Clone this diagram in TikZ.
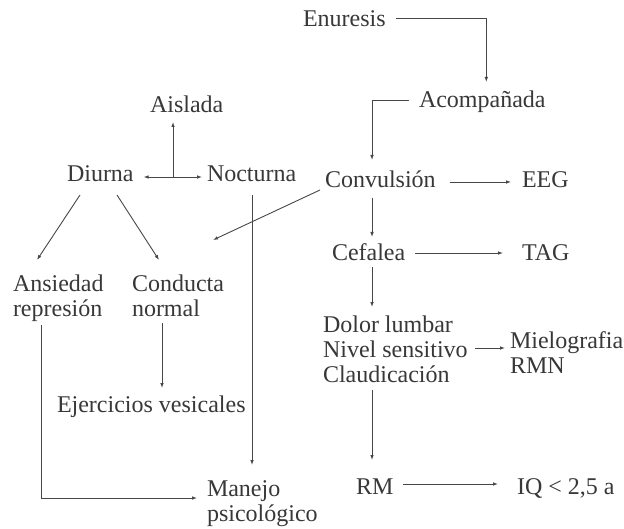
\documentclass[tikz,border=0pt]{standalone}
\usepackage{fontspec}
\setmainfont{Liberation Serif}
\usetikzlibrary{arrows.meta,calc}

\begin{document}
\begin{tikzpicture}[x=1bp,y=-1bp,
    lbl/.style={anchor=base west,inner sep=0pt,outer sep=0pt,text=black!78,
      font=\fontsize{24bp}{25bp}\selectfont},
    % multi-line labels: the base anchor sits on the last line
    lbllines/.style={lbl,align=left},
    arr/.style={draw=black!72,line width=0.9bp,-{Latex[length=5bp,width=3.6bp]}},
    dbl/.style={draw=black!72,line width=0.9bp,{Latex[length=5bp,width=3.6bp]}-{Latex[length=5bp,width=3.6bp]}}]
  % page frame
  \fill[white] (0,0) rectangle (624,529);
  \useasboundingbox (0,0) rectangle (624,529);

  % right branch
  \node[lbl] (enur)  at (303,27)  {Enuresis};
  \node[lbl] (acomp) at (419,108) {Acompañada};
  \node[lbl] (conv)  at (325,188) {Convulsión};
  \node[lbl] (eeg)   at (522,188) {EEG};
  \node[lbl] (cef)   at (332,260) {Cefalea};
  \node[lbl] (tag)   at (522,260) {TAG};
  \node[lbllines] (dolor) at (323,382) {Dolor lumbar\\Nivel sensitivo\\Claudicación};
  \node[lbllines] (miel)  at (510,373) {Mielografia\\RMN};
  \node[lbl] (rm)    at (356,494) {RM};
  \node[lbl] (iq)    at (517,494) {IQ < 2,5 a};

  % left branch
  \node[lbl] (aisl)  at (150,113) {Aislada};
  \node[lbl] (diur)  at (67,182)  {Diurna};
  \node[lbl] (noct)  at (207,182) {Nocturna};
  \node[lbllines] (ansi)   at (13,316)  {Ansiedad\\represión};
  \node[lbllines] (cond)   at (132,316) {Conducta\\normal};
  \node[lbl] (ejer)  at (57,412)  {Ejercicios vesicales};
  \node[lbllines] (manejo) at (207,521) {Manejo\\psicológico};

  % connectors, right branch
  \draw[arr] ($(enur.base east)+(10,-9)$) -| ($(acomp.base)+(4,-26)$);
  \draw[arr] ($(acomp.base west)+(-10,-8)$) -| ($(conv.base west)+(47,-28)$);
  \draw[arr] ($(conv.base east)+(14,-6)$) -- ($(eeg.base west)+(-11,-6)$);
  \draw[arr] ($(conv.base west)+(47,10)$) -- ($(cef.base west)+(40,-23)$);
  \draw[arr] ($(cef.base east)+(10,-7)$) -- ($(tag.base west)+(-19,-7)$);
  \draw[arr] ($(cef.base west)+(40,7)$) -- ($(dolor.base west)+(49,-75)$);
  \draw[arr] ($(dolor.base west)+(152,-34)$) -- ($(miel.base west)+(-5,-25)$);
  \draw[arr] ($(dolor.base west)+(49,8)$) -- ($(rm.base west)+(16,-34)$);
  \draw[arr] ($(rm.base east)+(10,-10)$) -- ($(iq.base west)+(-19,-10)$);
  \draw[arr] ($(conv.base west)+(-5,2)$) -- ($(cond.base west)+(81,-76)$);

  % connectors, left branch
  \draw[dbl] ($(diur.base east)+(10,-5)$) -- ($(noct.base west)+(-5,-5)$);
  \draw[arr] ($(aisl.base west)+(23,64)$) -- ($(aisl.base west)+(23,9)$);
  \draw[arr] ($(diur.base west)+(13,13)$) -- ($(ansi.base west)+(24,-56)$);
  \draw[arr] ($(diur.base west)+(50,13)$) -- ($(cond.base west)+(27,-56)$);
  \draw[arr] ($(noct.base west)+(45,13)$) -- ($(manejo.base west)+(45,-56)$);
  \draw[arr] ($(cond.base west)+(30,7)$) -- ($(ejer.base west)+(105,-24)$);
  \draw[arr] ($(ansi.base west)+(28,9)$) |- ($(manejo.base west)+(-10,-23)$);
\end{tikzpicture}
\end{document}
